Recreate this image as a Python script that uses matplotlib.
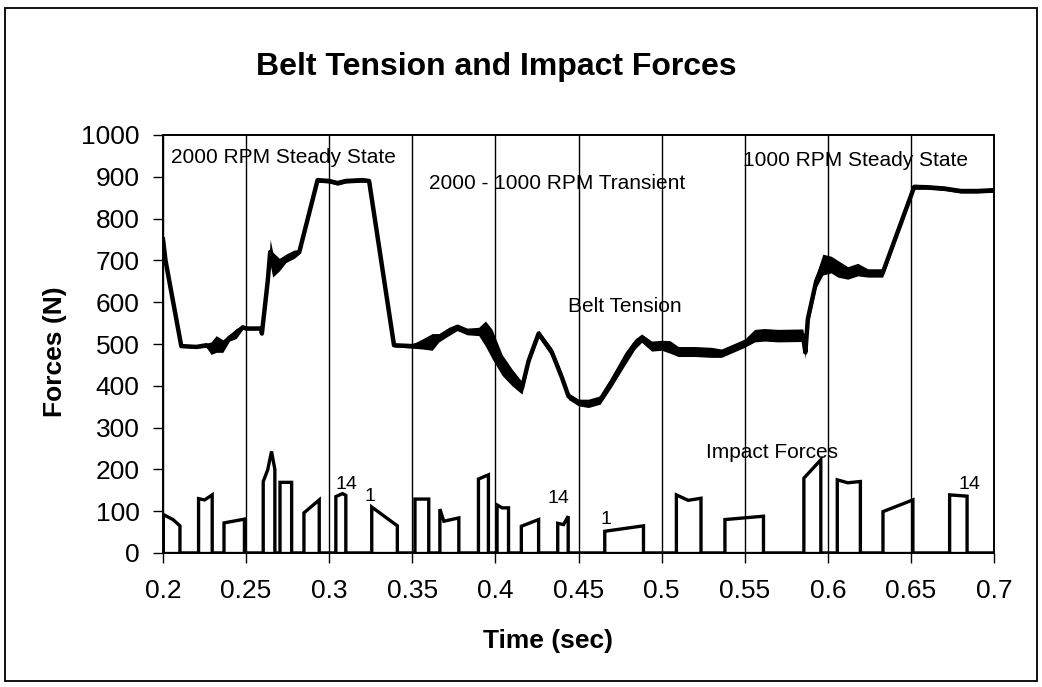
import matplotlib
matplotlib.use("Agg")
import matplotlib.pyplot as plt
from matplotlib.patches import Rectangle
import numpy as np

plt.rcParams['font.family'] = ['Liberation Sans', 'DejaVu Sans']

# ---------------- data ----------------
title = "Belt Tension and Impact Forces"
x_label = "Time (sec)"
y_label = "Forces (N)"
x_ticks = [0.2, 0.25, 0.3, 0.35, 0.4, 0.45, 0.5, 0.55, 0.6, 0.65, 0.7]
x_tick_labels = ["0.2", "0.25", "0.3", "0.35", "0.4", "0.45", "0.5", "0.55", "0.6", "0.65", "0.7"]
y_ticks = [0, 100, 200, 300, 400, 500, 600, 700, 800, 900, 1000]

# Belt tension: time, force, half-width of the noisy band
tension_t = [0.200, 0.2015, 0.211, 0.220, 0.226, 0.229, 0.232, 0.236, 0.240, 0.244, 0.248,
             0.250, 0.259, 0.2595, 0.263, 0.2645, 0.266, 0.270, 0.274, 0.279, 0.282,
             0.293, 0.300, 0.305, 0.310, 0.320, 0.324, 0.339, 0.350, 0.356, 0.362,
             0.366, 0.372, 0.377, 0.383, 0.390, 0.394, 0.398, 0.404, 0.410, 0.416,
             0.420, 0.426, 0.434, 0.440, 0.444, 0.450, 0.456, 0.463, 0.470, 0.478,
             0.484, 0.488, 0.494, 0.500, 0.505, 0.510, 0.520, 0.530, 0.536, 0.550,
             0.556, 0.562, 0.570, 0.585, 0.5865, 0.588, 0.593, 0.597, 0.602, 0.606,
             0.612, 0.618, 0.624, 0.633, 0.652, 0.660, 0.670, 0.680, 0.690, 0.700]
tension_f = [750, 700, 495, 493, 497, 490, 500, 495, 515, 525, 540,
             537, 537, 525, 650, 720, 690, 690, 705, 715, 720,
             892, 890, 885, 890, 892, 890, 497, 495, 500, 505,
             515, 530, 540, 530, 530, 525, 500, 450, 420, 395,
             460, 525, 480, 420, 375, 360, 358, 366, 410, 465,
             500, 514, 495, 497, 493, 482, 482, 480, 478, 502,
             520, 522, 520, 521, 480, 560, 650, 690, 690, 680,
             670, 678, 670, 670, 876, 875, 872, 866, 866, 868]
tension_spread = [0, 0, 3, 3, 5, 15, 20, 15, 8, 12, 5,
                  3, 3, 3, 10, 30, 30, 15, 10, 10, 5,
                  5, 5, 5, 5, 5, 3, 4, 5, 12, 20,
                  10, 10, 8, 8, 10, 30, 35, 25, 20, 15,
                  8, 8, 10, 10, 8, 8, 10, 10, 12, 15,
                  12, 10, 12, 12, 15, 12, 12, 12, 10, 10,
                  15, 15, 15, 15, 15, 15, 15, 25, 20, 20,
                  15, 15, 10, 10, 6, 5, 5, 5, 5, 5]

# Impact forces: each pulse as (times along its top, forces along its top)
impact_pulse_t = [
    [0.2002, 0.2060, 0.2102],
    [0.2214, 0.2250, 0.2296],
    [0.2367, 0.2490],
    [0.2603, 0.2630, 0.2653, 0.2673],
    [0.2704, 0.2774],
    [0.2848, 0.2940],
    [0.3040, 0.3080, 0.3100],
    [0.3256, 0.3410],
    [0.3516, 0.3599],
    [0.3666, 0.3690, 0.3780],
    [0.3898, 0.3958],
    [0.4010, 0.4040, 0.4079],
    [0.4156, 0.4260],
    [0.4375, 0.4410, 0.4438],
    [0.4658, 0.4891],
    [0.5089, 0.5160, 0.5237],
    [0.5381, 0.5613],
    [0.5856, 0.5958],
    [0.6057, 0.6120, 0.6196],
    [0.6332, 0.6512],
    [0.6733, 0.6838],
]
impact_pulse_f = [
    [92, 80, 65],
    [130, 127, 139],
    [72, 81],
    [171, 199, 243, 200],
    [169, 169],
    [96, 127],
    [135, 142, 138],
    [110, 65],
    [129, 129],
    [105, 76, 84],
    [177, 187],
    [115, 108, 108],
    [64, 80],
    [71, 68, 88],
    [52, 65],
    [139, 126, 131],
    [80, 88],
    [179, 223],
    [175, 168, 171],
    [99, 127],
    [139, 136],
]

# Text annotations
region_labels = ["2000 RPM Steady State", "2000 - 1000 RPM Transient", "1000 RPM Steady State"]
region_t = [0.2048, 0.360, 0.549]
region_f = [945, 885, 940]
series_labels = ["Belt Tension", "Impact Forces"]
series_t = [0.4435, 0.5265]
series_f = [589, 240]
pulse_numbers = ["14", "1", "14", "1", "14"]
pulse_number_t = [0.3035, 0.3215, 0.4315, 0.4635, 0.6789]
pulse_number_f = [163, 135, 131, 79, 163]

# ---------------- figure ----------------
W, H = 1042, 687
fig = plt.figure(figsize=(W / 100, H / 100), dpi=100)
fig.patch.set_facecolor('white')
ax = fig.add_axes([163 / W, 1 - 553 / H, (994 - 163) / W, (553 - 135) / H])

ax.set_xlim(0.2, 0.7)
ax.set_ylim(0, 1000)

# vertical gridlines
for xt in x_ticks:
    ax.axvline(xt, color='black', lw=1.0, zorder=1)

# belt tension
tt = np.array(tension_t)
tf = np.array(tension_f)
ts = np.array(tension_spread)
ax.fill_between(tt, tf - ts, tf + ts, color='black', lw=0, zorder=3)
ax.plot(tt, tf, color='black', lw=3.2, solid_joinstyle='round', zorder=3)

# impact forces as a polyline with vertical edges
px, py = [0.2], [0]
for pt, pf in zip(impact_pulse_t, impact_pulse_f):
    px += [pt[0]] + list(pt) + [pt[-1]]
    py += [0] + list(pf) + [0]
px.append(0.7)
py.append(0)
ax.plot(px, py, color='black', lw=2.4, solid_joinstyle='miter', zorder=3)
ax.axhline(0, color='black', lw=2.4, zorder=3)

# annotations
for s, t, f in zip(region_labels, region_t, region_f):
    ax.text(t, f, s, fontsize=15, ha='left', va='center', zorder=5)
for s, t, f in zip(series_labels, series_t, series_f):
    ax.text(t, f, s, fontsize=15, ha='left', va='center', zorder=5)
for s, t, f in zip(pulse_numbers, pulse_number_t, pulse_number_f):
    ax.text(t, f, s, fontsize=14, ha='left', va='center', zorder=5)

# axes styling
ax.set_xticks(x_ticks)
ax.set_xticklabels(x_tick_labels)
ax.set_yticks(y_ticks)
ax.tick_params(axis='both', direction='out', length=7, width=1, labelsize=19, color='black')
ax.tick_params(axis='x', pad=12)
ax.tick_params(axis='y', pad=10)
for sp in ax.spines.values():
    sp.set_linewidth(1.4)
    sp.set_color('black')

fig.text(496 / W, 1 - 67 / H, title, fontsize=23, fontweight='bold', ha='center', va='center')
fig.text(548 / W, 1 - 641 / H, x_label, fontsize=19, fontweight='bold', ha='center', va='center')
fig.text(55 / W, 1 - 352 / H, y_label, fontsize=19, fontweight='bold', ha='center', va='center',
         rotation=90)

# outer frame of the chart
fig.patches.append(Rectangle((5 / W, 1 - 681 / H), (1037 - 5) / W, (681 - 8) / H,
                             transform=fig.transFigure, fill=False, edgecolor='black', lw=1.3))

fig.savefig("out.png", dpi=100, facecolor='white')
